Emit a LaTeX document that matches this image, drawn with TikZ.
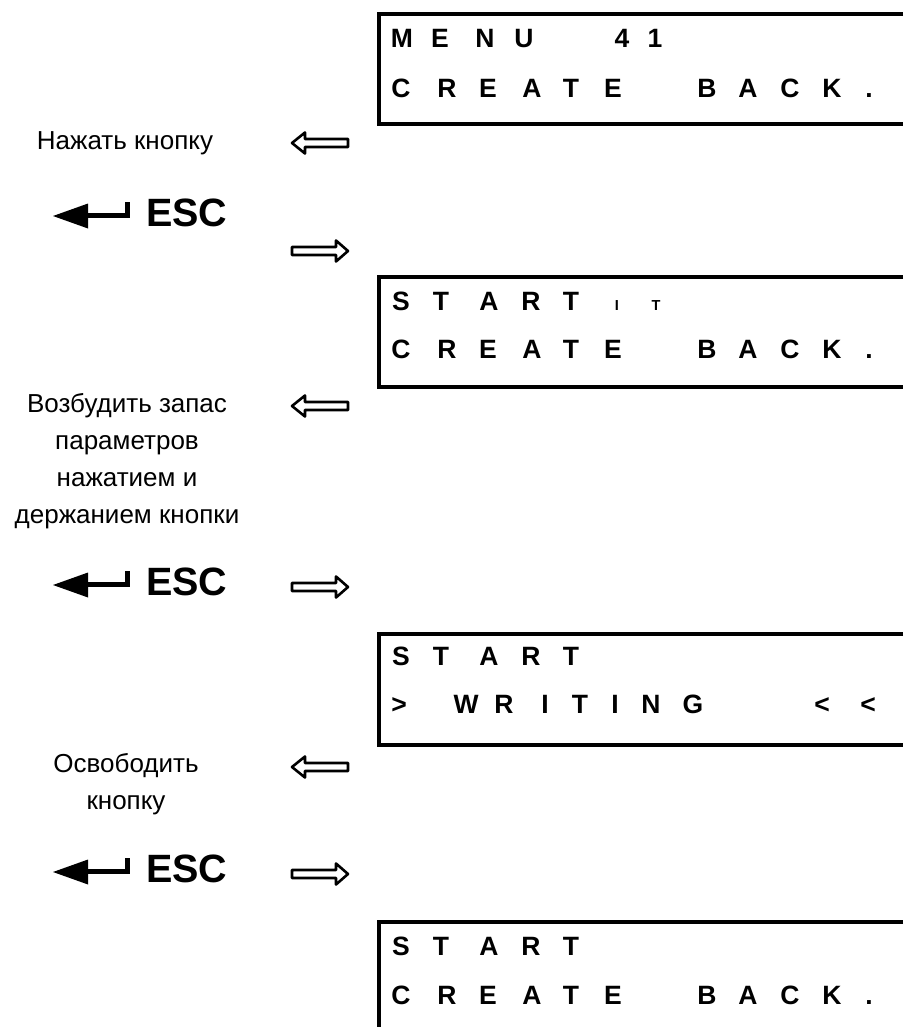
\documentclass[tikz,border=0pt]{standalone}
\usepackage{fontspec}
\setmainfont{Liberation Sans}
\begin{document}
\begin{tikzpicture}[x=1pt,y=-1pt,
  lcd/.style={inner sep=0pt,anchor=base,font=\fontsize{26.5}{30}\selectfont\bfseries},
  lcdsmall/.style={inner sep=0pt,anchor=base,font=\fontsize{14.5}{16}\selectfont\bfseries},
  lbl/.style={inner sep=0pt,anchor=base,font=\fontsize{26}{30}\selectfont},
  esctext/.style={inner sep=0pt,anchor=base west,font=\fontsize{39.5}{44}\selectfont\bfseries},
  lcdbox/.style={line width=4pt,line cap=butt,line join=miter},
  harrow/.style={line width=2.6pt,line join=round,fill=white},
]
\useasboundingbox (0,0) rectangle (903,1027);

% ---- LCD boxes (open at right edge)
\draw[lcdbox] (903,14) -- (379,14) -- (379,124) -- (903,124);
\draw[lcdbox] (903,277) -- (379,277) -- (379,386.5) -- (903,386.5);
\draw[lcdbox] (903,634) -- (379,634) -- (379,745) -- (903,745);
\draw[lcdbox] (903,922) -- (379,922) -- (379,1027);

% ---- Box 1
\foreach \x/\c [count=\i] in {402/M,440/E,485/N,524/U,622/4,655/1}
  \node[lcd] (bA1c\i) at (\x,48) {\c};
\foreach \x/\c [count=\i] in {401/C,447/R,488/E,532/A,571/T,613/E,707/B,748/A,790/C,832/K,869/.}
  \node[lcd] (bA2c\i) at (\x,98) {\c};

% ---- Box 2
\foreach \x/\c [count=\i] in {401/S,441/T,489/A,531/R,571/T}
  \node[lcd] (bB1c\i) at (\x,310) {\c};
\node[lcdsmall] (bB1c6) at (617,310) {I};
\node[lcdsmall] (bB1c7) at (656,310) {T};
\foreach \x/\c [count=\i] in {401/C,447/R,488/E,532/A,571/T,613/E,707/B,748/A,790/C,832/K,869/.}
  \node[lcd] (bB2c\i) at (\x,358) {\c};

% ---- Box 3
\foreach \x/\c [count=\i] in {401/S,441/T,489/A,531/R,571/T}
  \node[lcd] (bC1c\i) at (\x,665) {\c};
\foreach \x/\c [count=\i] in {399/>,466/W,504/R,545/I,580/T,615/I,651/N,693/G,822/<,868/<}
  \node[lcd] (bC2c\i) at (\x,713) {\c};

% ---- Box 4
\foreach \x/\c [count=\i] in {401/S,441/T,489/A,531/R,571/T}
  \node[lcd] (bD1c\i) at (\x,955) {\c};
\foreach \x/\c [count=\i] in {401/C,447/R,488/E,532/A,571/T,613/E,707/B,748/A,790/C,832/K,869/.}
  \node[lcd] (bD2c\i) at (\x,1004) {\c};

% ---- Labels
\node[lbl] (lab1) at (125,150) {Нажать кнопку};
\node[lbl] (lab2a) at (127,412) {Возбудить запас};
\node[lbl] (lab2b) at (127,449) {параметров};
\node[lbl] (lab2c) at (127,486) {нажатием и};
\node[lbl] (lab2d) at (127,523) {держанием кнопки};
\node[lbl] (lab3a) at (126,772) {Освободить};
\node[lbl] (lab3b) at (126,809) {кнопку};

% ---- ESC symbols
\foreach \y/\n in {216/1,585/2,872/3}{
  \fill (53,\y) -- (88,\y-12.5) -- (88,\y+12.5) -- cycle;
  \draw[line width=5pt,line join=miter] (86,\y-0.5) -| (127.5,\y-14);
  \node[esctext] (esc\n) at (146,\y+10) {ESC};
}

% ---- hollow left arrows
\foreach \y in {143,406,767}
  \draw[harrow] (292,\y) -- (305,\y-10.5) -- (305,\y-4) -- (348,\y-4) -- (348,\y+4) -- (305,\y+4) -- (305,\y+10.5) -- cycle;
% ---- hollow right arrows
\foreach \y in {251,587,874}
  \draw[harrow] (348,\y) -- (336,\y-10.5) -- (336,\y-4) -- (292,\y-4) -- (292,\y+4) -- (336,\y+4) -- (336,\y+10.5) -- cycle;
\end{tikzpicture}
\end{document}
